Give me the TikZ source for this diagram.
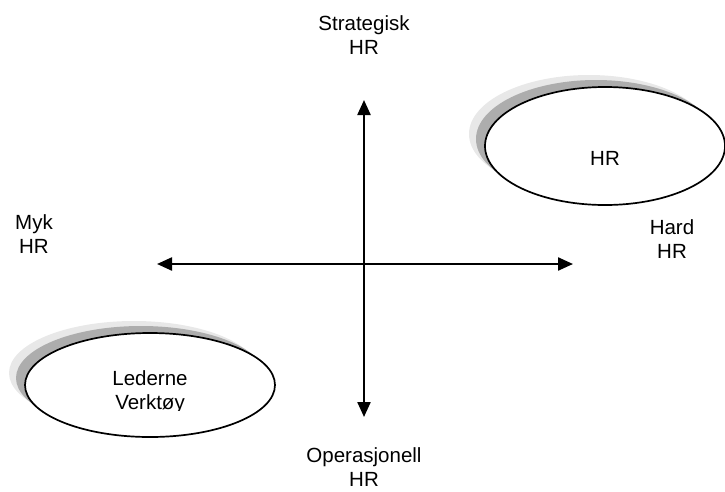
\documentclass[tikz,border=0pt]{standalone}
\usepackage{fontspec}
\setmainfont{Liberation Sans}
\usetikzlibrary{arrows.meta,shapes.geometric,shadows}
\begin{document}
\begin{tikzpicture}[x=1pt,y=-1pt,
  lbl/.style={align=center,font=\fontsize{20.5}{24}\selectfont,inner sep=0pt},
  axis/.style={line width=2.3pt,{Triangle[length=15pt,width=13pt]}-{Triangle[length=15pt,width=13pt]}},
  bubble/.style={ellipse,draw,line width=1.7pt,fill=white,inner sep=0pt,
    minimum width=240pt,minimum height=118pt,
    drop shadow={shadow xshift=-16pt,shadow yshift=12pt,fill=black!9,opacity=1},
    drop shadow={shadow xshift=-9pt,shadow yshift=7pt,fill=black!32,opacity=1}}]
\useasboundingbox (0,0) rectangle (725,491);

% axes
\coordinate (top) at (364,100);
\coordinate (bot) at (364,417);
\coordinate (lft) at (157,264);
\coordinate (rgt) at (573,264);
\draw[axis] (top) -- (bot);
\draw[axis] (lft) -- (rgt);

% axis labels
\node[lbl] (strat) at (364,35) {Strategisk\\HR};
\node[lbl] (oper) at (364,467) {Operasjonell\\HR};
\node[lbl] (myk) at (34,234) {Myk\\HR};
\node[lbl] (hard) at (672,239) {Hard\\HR};

% bubbles
\node[bubble] (hr) at (605,146) {};
\node[lbl] (hrtext) at (605,158) {HR};

\node[bubble,minimum width=250pt,minimum height=104pt] (led) at (150,385) {};
\begin{scope}
  \clip (60,360) rectangle (240,410);
  \node[lbl] (ledtext) at (150,392) {Lederne\\Verktøy};
\end{scope}
\end{tikzpicture}
\end{document}
